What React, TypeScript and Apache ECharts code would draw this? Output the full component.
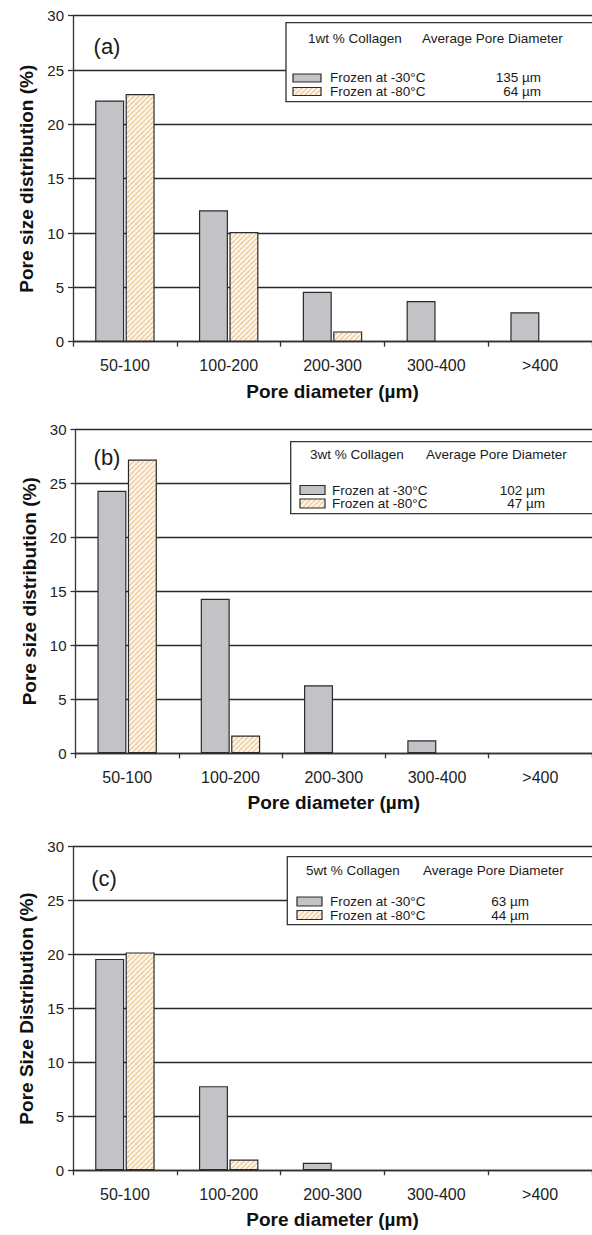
import React, { useEffect, useRef } from "react";
import * as echarts from "echarts";

const categories = ["50-100", "100-200", "200-300", "300-400", ">400"];
const yTicks = [0, 5, 10, 15, 20, 25, 30];

const a30 = [22.2, 12.1, 4.6, 3.75, 2.7];
const a80 = [22.8, 10.1, 0.95, 0, 0];
const b30 = [24.3, 14.3, 6.3, 1.2, 0];
const b80 = [27.2, 1.65, 0, 0, 0];
const c30 = [19.6, 7.8, 0.7, 0, 0];
const c80 = [20.2, 1.0, 0, 0, 0];

const panelLabels = ["(a)", "(b)", "(c)"];
const yTitles = ["Pore size distribution (%)", "Pore size distribution (%)", "Pore Size Distribution (%)"];
const xTitle = "Pore diameter (µm)";
const legendHeads = ["1wt % Collagen", "3wt % Collagen", "5wt % Collagen"];
const legendAvg = "Average Pore Diameter";
const seriesNames = ["Frozen at -30°C", "Frozen at -80°C"];
const avg30 = ["135 µm", "102 µm", "63 µm"];
const avg80 = ["64 µm", "47 µm", "44 µm"];

const FONT = "'Liberation Sans', Arial, sans-serif";
const GREY = "#c3c2c7";
const EDGE = "#2b2b2b";

function makeHatch() {
  const s = 5;
  const c = document.createElement("canvas");
  c.width = s;
  c.height = s;
  const ctx = c.getContext("2d")!;
  ctx.fillStyle = "#fdf6ec";
  ctx.fillRect(0, 0, s, s);
  ctx.strokeStyle = "#f0c896";
  ctx.lineWidth = 1.3;
  for (const off of [-s, 0, s]) {
    ctx.beginPath();
    ctx.moveTo(off, s);
    ctx.lineTo(off + s, 0);
    ctx.stroke();
  }
  return c;
}

const hideZero = (arr: number[]) => arr.map((v) => (v === 0 ? "-" : v));

export default function App() {
  const ref = useRef<HTMLDivElement>(null);
  useEffect(() => {
    document.body.style.margin = "0";
    const chart = echarts.init(ref.current!, null, { renderer: "svg" });
    const hatchCanvas = makeHatch();
    const hatch: any = { image: hatchCanvas, repeat: "repeat", imageWidth: 5, imageHeight: 5 };

    const grids = [
      { left: 73, top: 15.7, width: 519, height: 326 },
      { left: 75.5, top: 429.3, width: 517, height: 324 },
      { left: 73, top: 846.7, width: 519, height: 323.6 },
    ];
    const data30 = [a30, b30, c30];
    const data80 = [a80, b80, c80];

    const legendGeo = [
      { bx: 286, by: 22.7, bh: 79, h1x: 308, h2x: 422, hy: 38, sx: 293, sw: 28, sh: 8, s1y: 74, s2y: 87.5, tx: 330, t1y: 77.5, t2y: 91.5, vx: 541 },
      { bx: 290.7, by: 441.7, bh: 72, h1x: 310, h2x: 426, hy: 454.7, sx: 300, sw: 25, sh: 9, s1y: 485.5, s2y: 499, tx: 332, t1y: 490, t2y: 503.5, vx: 545 },
      { bx: 287.3, by: 856.7, bh: 68, h1x: 306, h2x: 423, hy: 870, sx: 297, sw: 25, sh: 9, s1y: 897, s2y: 910.5, tx: 330, t1y: 901.5, t2y: 915, vx: 529 },
    ];
    const labelPos = [
      { x: 107, y: 46 },
      { x: 107, y: 457.7 },
      { x: 104, y: 878 },
    ];

    const graphic: any[] = [];
    legendGeo.forEach((g, i) => {
      const txt = (text: string, x: number, y: number, align = "left") => ({
        type: "text",
        x,
        y,
        z: 101,
        style: { text, fill: "#1a1a1a", font: `13.5px ${FONT}`, align, verticalAlign: "middle" },
      });
      graphic.push({
        type: "rect",
        z: 100,
        shape: { x: g.bx, y: g.by, width: 340, height: g.bh },
        style: { fill: "#fff", stroke: "#333", lineWidth: 1.3 },
      });
      graphic.push(txt(legendHeads[i], g.h1x, g.hy));
      graphic.push(txt(legendAvg, g.h2x, g.hy));
      graphic.push({
        type: "rect",
        z: 101,
        shape: { x: g.sx, y: g.s1y, width: g.sw, height: g.sh },
        style: { fill: GREY, stroke: EDGE, lineWidth: 1.2 },
      });
      graphic.push({
        type: "rect",
        z: 101,
        shape: { x: g.sx, y: g.s2y, width: g.sw, height: g.sh },
        style: { fill: hatch, stroke: EDGE, lineWidth: 1.2 },
      });
      graphic.push(txt(seriesNames[0], g.tx, g.t1y));
      graphic.push(txt(seriesNames[1], g.tx, g.t2y));
      graphic.push(txt(avg30[i], g.vx, g.t1y, "right"));
      graphic.push(txt(avg80[i], g.vx, g.t2y, "right"));
      graphic.push({
        type: "text",
        x: labelPos[i].x,
        y: labelPos[i].y,
        z: 101,
        style: { text: panelLabels[i], fill: "#1a1a1a", font: `22px ${FONT}`, align: "center", verticalAlign: "middle" },
      });
    });

    const option: any = {
      animation: false,
      backgroundColor: "#fff",
      textStyle: { fontFamily: FONT },
      grid: grids,
      xAxis: grids.map((_, i) => ({
        type: "category",
        gridIndex: i,
        data: categories,
        axisLine: { show: true, lineStyle: { color: "#333", width: 1.3 } },
        axisTick: { show: true, length: 5, lineStyle: { color: "#333", width: 1.3 } },
        axisLabel: { color: "#222", fontSize: 16, margin: 16, fontFamily: FONT },
        name: xTitle,
        nameLocation: "middle",
        nameGap: 40,
        nameTextStyle: { color: "#111", fontSize: 19, fontWeight: "bold", fontFamily: FONT },
      })),
      yAxis: grids.map((_, i) => ({
        type: "value",
        gridIndex: i,
        min: 0,
        max: 30,
        interval: 5,
        axisLine: { show: true, lineStyle: { color: "#333", width: 1.3 } },
        axisTick: { show: true, length: 5, lineStyle: { color: "#333", width: 1.3 } },
        axisLabel: {
          color: "#222",
          fontSize: 15,
          margin: 9,
          fontFamily: FONT,
          formatter: (v: number) => (yTicks.includes(v) ? String(v) : ""),
        },
        splitLine: { show: true, lineStyle: { color: "#2a2a2a", width: 1.3 } },
        name: yTitles[i],
        nameLocation: "middle",
        nameGap: 36,
        nameRotate: 90,
        nameTextStyle: { color: "#111", fontSize: 19, fontWeight: "bold", fontFamily: FONT },
      })),
      series: grids.flatMap((_, i) => [
        {
          type: "bar",
          name: seriesNames[0],
          xAxisIndex: i,
          yAxisIndex: i,
          data: hideZero(data30[i]),
          barWidth: 29,
          barGap: "5%",
          itemStyle: { color: GREY, borderColor: EDGE, borderWidth: 1.2 },
        },
        {
          type: "bar",
          name: seriesNames[1],
          xAxisIndex: i,
          yAxisIndex: i,
          data: hideZero(data80[i]),
          barWidth: 29,
          barGap: "5%",
          itemStyle: { color: hatch, borderColor: EDGE, borderWidth: 1.2 },
        },
      ]),
      graphic,
    };
    chart.setOption(option);
    return () => chart.dispose();
  }, []);
  return <div ref={ref} style={{ width: 592, height: 1235 }} />;
}
